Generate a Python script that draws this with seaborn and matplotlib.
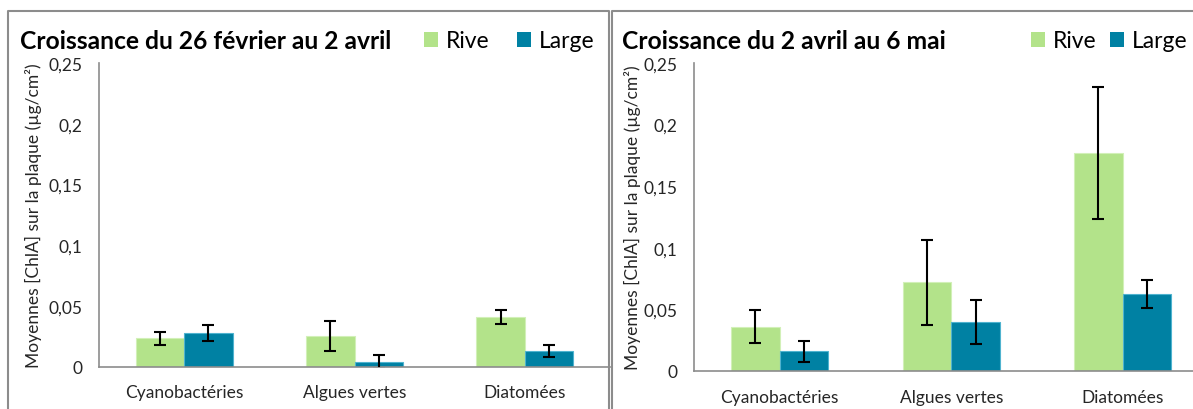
import matplotlib
matplotlib.use("Agg")
import matplotlib.pyplot as plt
import seaborn as sns
import pandas as pd
from matplotlib.patches import Patch
from matplotlib.lines import Line2D

# ---------------- data ----------------
categories = ["Cyanobactéries", "Algues vertes", "Diatomées"]
sites = ["Rive", "Large"]
titles = ["Croissance du 26 février au 2 avril", "Croissance du 2 avril au 6 mai"]

rive_p1 = [0.0235, 0.0255, 0.041]
rive_p1_err = [0.0055, 0.012, 0.006]
large_p1 = [0.028, 0.004, 0.013]
large_p1_err = [0.0065, 0.0055, 0.005]

rive_p2 = [0.036, 0.072, 0.177]
rive_p2_err = [0.0133, 0.0345, 0.0535]
large_p2 = [0.016, 0.0398, 0.0625]
large_p2_err = [0.0085, 0.0176, 0.0115]

yticks = [0, 0.05, 0.1, 0.15, 0.2, 0.25]
ytick_labels = ["0", "0,05", "0,1", "0,15", "0,2", "0,25"]
ylabel = "Moyennes [ChlA] sur la plaque (µg/cm²)"

colors = {"Rive": "#B3E38A", "Large": "#0081A3"}
edges = {"Rive": "#D2F0B8", "Large": "#4FB3CF"}
GRAY = "#8C8C8C"

# ---------------- figure ----------------
sns.set_theme(style="white")
plt.rcParams["font.family"] = ["Lato", "DejaVu Sans"]
plt.rcParams["text.color"] = "black"

W, H = 1193, 410
fig = plt.figure(figsize=(W / 100, H / 100), dpi=100)


def px_axes(left, top, right, bottom):
    return fig.add_axes([left / W, 1 - bottom / H, (right - left) / W, (bottom - top) / H])


panels = [
    dict(rive=rive_p1, rive_err=rive_p1_err, large=large_p1, large_err=large_p1_err,
         box=(99, 64, 610, 368), title_x=20, leg_x=424, ylab_x=42, colsp=1.2, xpad=12),
    dict(rive=rive_p2, rive_err=rive_p2_err, large=large_p2, large_err=large_p2_err,
         box=(694, 64, 1208.5, 372), title_x=622, leg_x=1031, ylab_x=641, colsp=0.6, xpad=13),
]

FS = 12.5
for i, p in enumerate(panels):
    ax = px_axes(*p["box"])
    df = pd.DataFrame({
        "cat": categories * 2,
        "site": ["Rive"] * 3 + ["Large"] * 3,
        "val": list(p["rive"]) + list(p["large"]),
    })
    sns.barplot(data=df, x="cat", y="val", hue="site", order=categories,
                hue_order=sites, palette=colors, errorbar=None, width=0.568,
                saturation=1, legend=False, ax=ax)
    errs = {"Rive": p["rive_err"], "Large": p["large_err"]}
    for site, cont in zip(sites, ax.containers):
        xs, ys = [], []
        for bar in cont:
            bar.set_edgecolor(edges[site])
            bar.set_linewidth(0.8)
            xs.append(bar.get_x() + bar.get_width() / 2)
            ys.append(bar.get_height())
        ax.errorbar(xs, ys, yerr=errs[site], fmt="none", ecolor="black",
                    elinewidth=1.5, capsize=4.5, capthick=1.5, zorder=5)

    ax.set_ylim(0, 0.25)
    ax.set_xlim(-0.5, 2.5)
    ax.set_yticks(yticks)
    ax.set_yticklabels(ytick_labels, fontsize=FS)
    ax.set_xticks([-0.5, 0.5, 1.5, 2.5])
    ax.set_xticklabels([])
    ax.set_xticks([0, 1, 2], minor=True)
    ax.set_xticklabels(categories, minor=True, fontsize=FS)
    ax.tick_params(axis="x", which="major", length=5, width=1.2, color=GRAY, direction="out")
    ax.tick_params(axis="x", which="minor", length=0, pad=p["xpad"])
    ax.tick_params(axis="y", length=5, width=1.2, color=GRAY, direction="out", pad=7)
    ax.set_xlabel("")
    ax.set_ylabel(ylabel, fontsize=FS)
    x0 = p["box"][0]
    ax.yaxis.set_label_coords((p["ylab_x"] - x0) / (p["box"][2] - x0), 0.5)
    for s in ["top", "right"]:
        ax.spines[s].set_visible(False)
    for s in ["left", "bottom"]:
        ax.spines[s].set_color(GRAY)
        ax.spines[s].set_linewidth(1.2)

    fig.text(p["title_x"] / W, 1 - 49 / H, titles[i], fontsize=17.7,
             fontweight="bold", ha="left", va="baseline")

    handles = [Patch(facecolor=colors[s], edgecolor="none", label=s) for s in sites]
    ax.legend(handles=handles, ncol=2, loc="center left",
              bbox_to_anchor=(p["leg_x"] / W, 1 - 42 / H), bbox_transform=fig.transFigure,
              frameon=False, fontsize=16.5, handlelength=0.6, handleheight=0.6,
              handletextpad=0.35, columnspacing=p["colsp"], borderpad=0, borderaxespad=0)

# panel borders
def fline(xs, ys):
    fig.add_artist(Line2D([x / W for x in xs], [1 - y / H for y in ys],
                          transform=fig.transFigure, color=GRAY, lw=1.5))

fline([8, 8, 609, 609], [H + 5, 12, 12, H + 5])
fline([612, 612, W + 5], [H + 5, 12, 12])

fig.savefig("out.png", dpi=100)
